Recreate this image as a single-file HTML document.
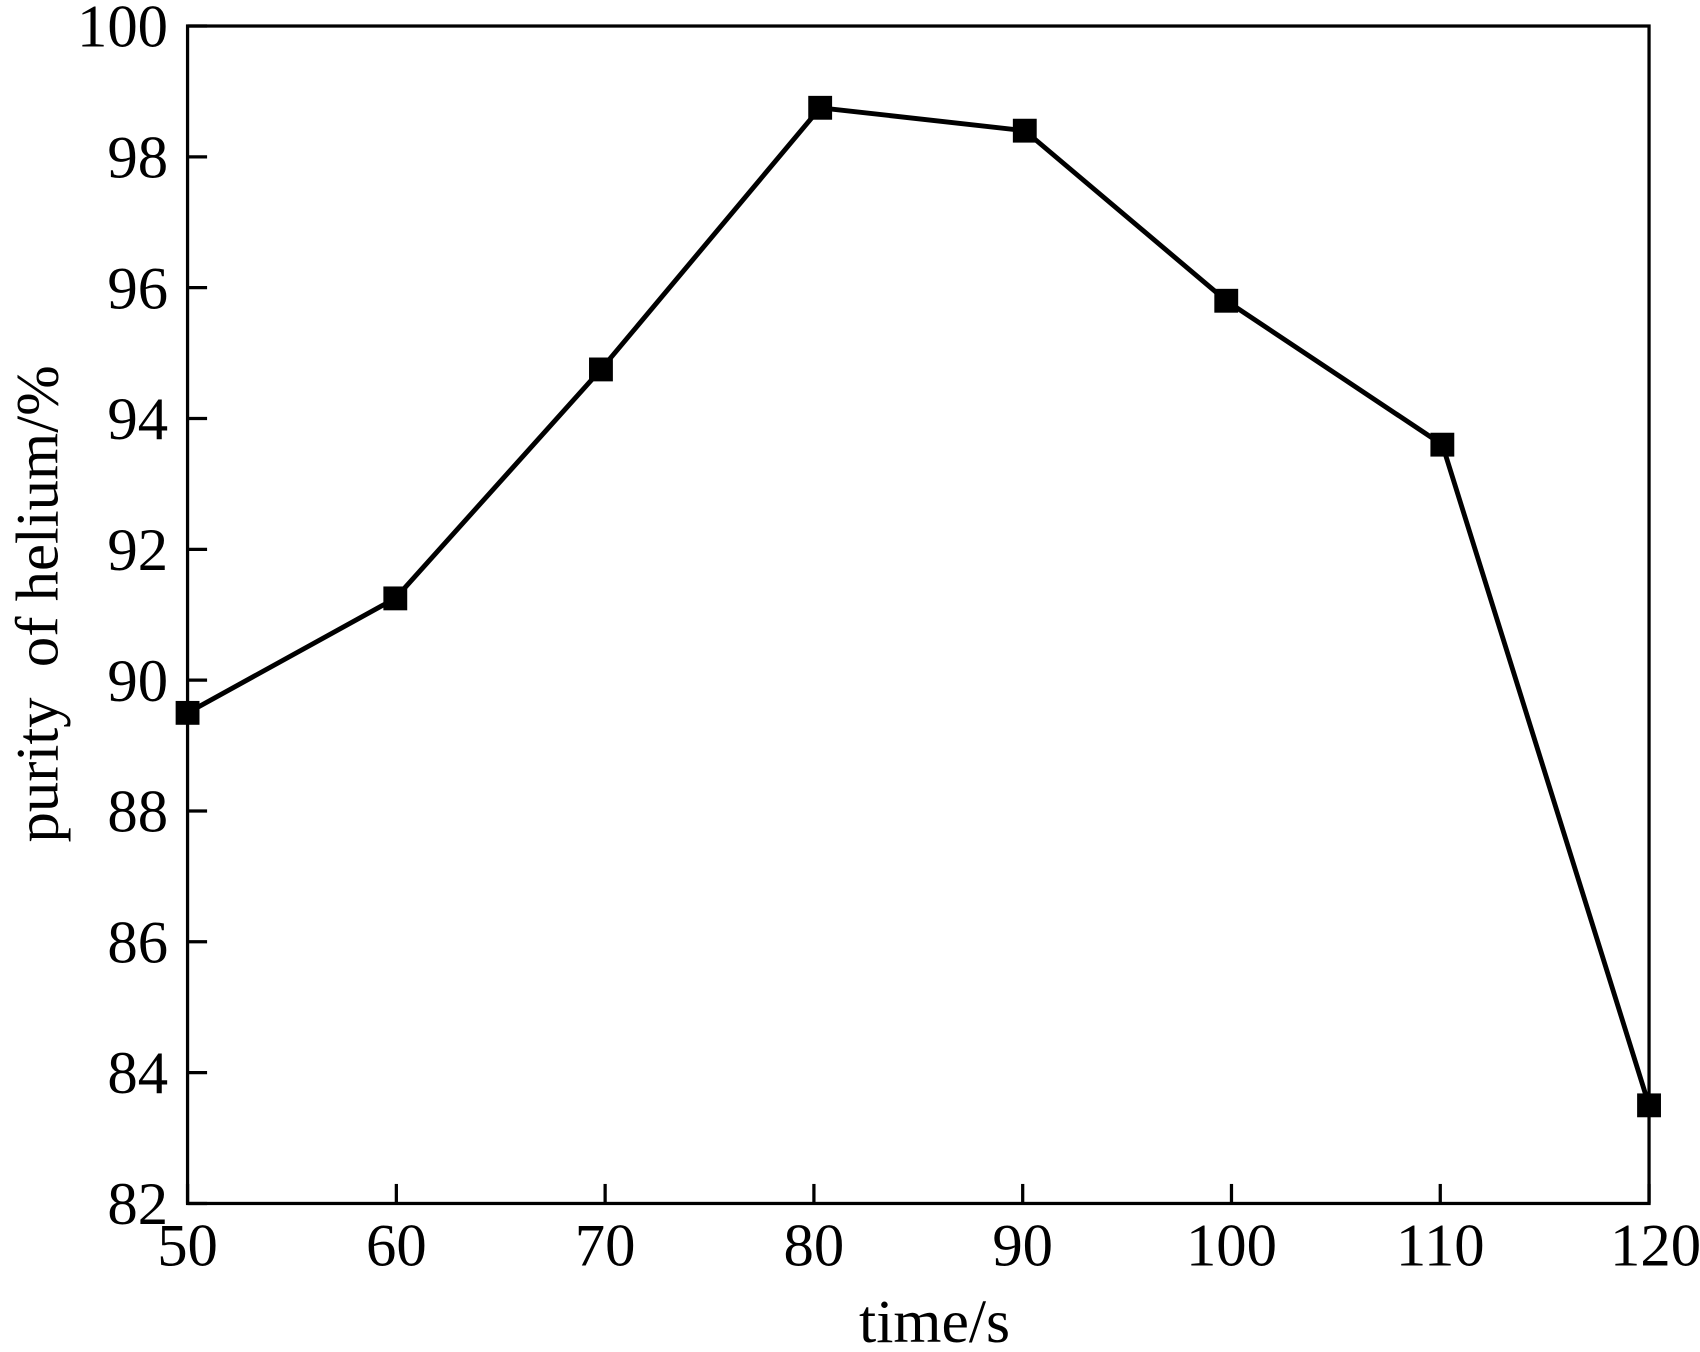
<!DOCTYPE html>
<html><head><meta charset="utf-8"><style>html,body{margin:0;padding:0;background:#fff}svg{display:block}text{font-family:"Liberation Serif",serif;fill:#000}</style></head>
<body>
<svg id="chart" width="1700" height="1352" viewBox="0 0 1568 1247" preserveAspectRatio="none" xmlns="http://www.w3.org/2000/svg">
<rect x="173" y="24" width="1348" height="1086" fill="none" stroke="#000" stroke-width="3"/>
<g id="ticks"></g>
<g id="series"></g>
<text x="862" y="1238" font-size="57" text-anchor="middle">time/s</text>
<text transform="translate(53,557) rotate(-90)" font-size="56" text-anchor="middle" xml:space="preserve">purity  of helium/%</text>
</svg>
<script>
const xTicks = [50,60,70,80,90,100,110,120];
const yTicks = [82,84,86,88,90,92,94,96,98,100];
const times = [50,59.95,69.8,80.3,90.1,99.75,110.1,120];
const purity = [89.5,91.25,94.75,98.75,98.4,95.8,93.6,83.5];
const L=173,R=1521,T=24,B=1110;
const xs=v=>L+(v-50)/70*(R-L);
const ys=v=>B-(v-82)/18*(B-T);
const NS="http://www.w3.org/2000/svg";
const tg=document.getElementById('ticks'), sg=document.getElementById('series');
function mk(tag,attrs,parent){const e=document.createElementNS(NS,tag);for(const k in attrs)e.setAttribute(k,attrs[k]);parent.appendChild(e);return e;}
xTicks.forEach(v=>{
  const x=xs(v);
  const t=mk('line',{x1:x,x2:x,y1:B,y2:B-18,stroke:'#000','stroke-width':3},tg);
  
  
  const l=mk('text',{x:x+(v===120?6:0),y:1167,'font-size':56,'text-anchor':'middle'},tg);
  l.textContent=v;
  
  
});
yTicks.forEach(v=>{
  const y=ys(v);
  const t=mk('line',{x1:L,x2:L+18,y1:y,y2:y,stroke:'#000','stroke-width':3},tg);
  
  
  const l=mk('text',{x:155,y:y+19,'font-size':56,'text-anchor':'end'},tg);
  l.textContent=v;
  
  
});
const pts=times.map((t,i)=>xs(t)+','+ys(purity[i])).join(' ');
const pl=mk('polyline',{points:pts,fill:'none',stroke:'#000','stroke-width':4.5,'stroke-linejoin':'miter'},sg);


times.forEach((t,i)=>{
  const m=mk('rect',{x:xs(t)-11,y:ys(purity[i])-11,width:22,height:22,fill:'#000'},sg);
  
  
});
</script>
</body></html>
